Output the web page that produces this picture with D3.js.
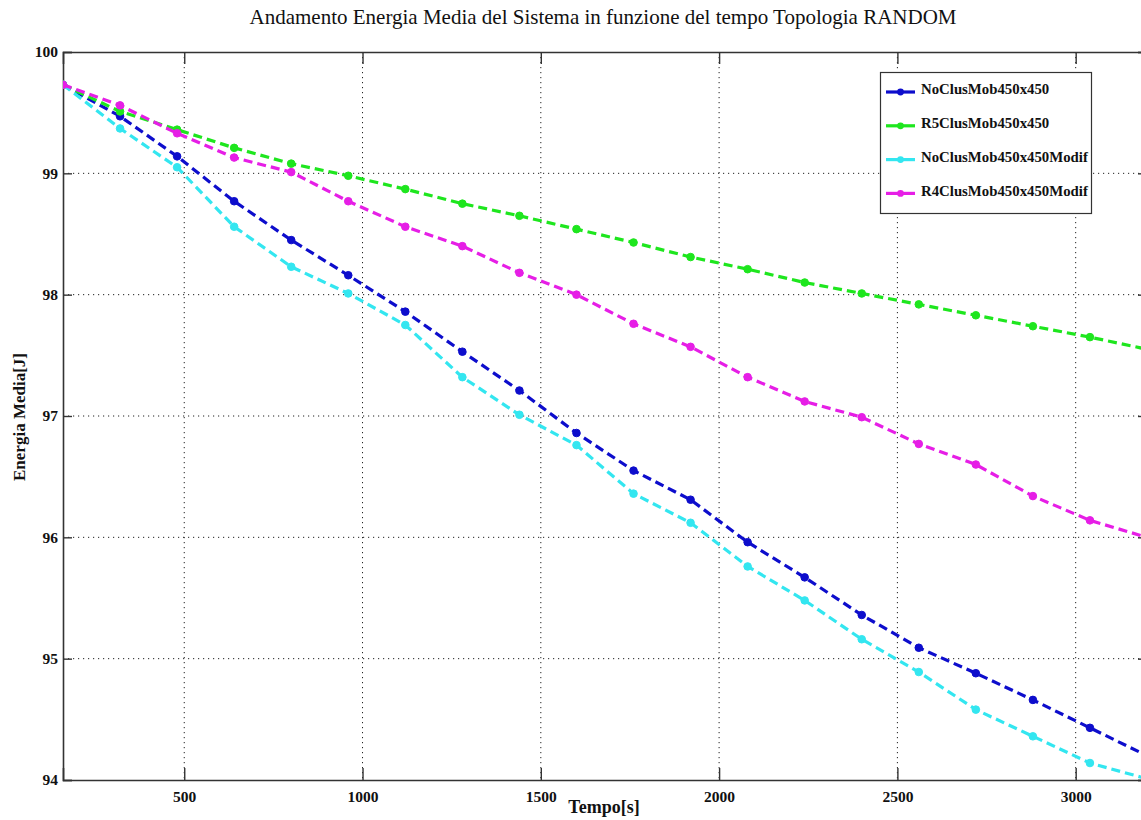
<!DOCTYPE html>
<html>
<head>
<meta charset="utf-8">
<script src="https://cdn.jsdelivr.net/npm/d3@7"></script>
<style>
  html, body { margin: 0; padding: 0; background: #fff; }
  svg { display: block; }
</style>
</head>
<body>
<svg id="chart" width="1141" height="820"></svg>
<script>
const titleText = "Andamento Energia Media del Sistema in funzione del tempo Topologia RANDOM";
const xLabel = "Tempo[s]";
const yLabel = "Energia Media[J]";
const time = [160, 320, 480, 640, 800, 960, 1120, 1280, 1440, 1600, 1760, 1920, 2080, 2240, 2400, 2560, 2720, 2880, 3040, 3200];
const seriesNames = ["NoClusMob450x450", "R5ClusMob450x450", "NoClusMob450x450Modif", "R4ClusMob450x450Modif"];
const seriesColors = ["#0d0dcc", "#1ee61e", "#33e6f0", "#e61ee6"];
const noClus = [99.73, 99.47, 99.14, 98.77, 98.45, 98.16, 97.86, 97.53, 97.21, 96.86, 96.55, 96.31, 95.96, 95.67, 95.36, 95.09, 94.88, 94.66, 94.43, 94.20];
const r5Clus = [99.73, 99.51, 99.36, 99.21, 99.08, 98.98, 98.87, 98.75, 98.65, 98.54, 98.43, 98.31, 98.21, 98.10, 98.01, 97.92, 97.83, 97.74, 97.65, 97.55];
const noClusModif = [99.73, 99.37, 99.05, 98.56, 98.23, 98.01, 97.75, 97.32, 97.01, 96.76, 96.36, 96.12, 95.76, 95.48, 95.16, 94.89, 94.58, 94.36, 94.14, 94.01];
const r4ClusModif = [99.73, 99.56, 99.33, 99.13, 99.01, 98.77, 98.56, 98.40, 98.18, 98.00, 97.76, 97.57, 97.32, 97.12, 96.99, 96.77, 96.60, 96.34, 96.14, 96.00];
const xTicks = [500, 1000, 1500, 2000, 2500, 3000];
const yTicks = [94, 95, 96, 97, 98, 99, 100];

const seriesValues = [noClus, r5Clus, noClusModif, r4ClusModif];

(function () {
const svg = d3.select("#chart");
const pL = 63, pR = 1147, pT = 52, pB = 780;
const x = d3.scaleLinear().domain([160, 3200]).range([pL, pR]);
const y = d3.scaleLinear().domain([94, 100]).range([pB, pT]);
const serif = "'Liberation Serif', 'DejaVu Serif', serif";

// Title
svg.append("text").attr("x", 603).attr("y", 24).attr("text-anchor", "middle")
  .attr("font-family", serif).attr("font-size", 21).attr("fill", "#111")
  .text(titleText);

// grid
const grid = svg.append("g");
xTicks.forEach(t => {
  grid.append("line").attr("x1", x(t)).attr("x2", x(t)).attr("y1", pT).attr("y2", pB)
    .attr("stroke", "#222").attr("stroke-width", 1).attr("stroke-dasharray", "1.2,3.8");
});
yTicks.filter(t => t > 94 && t < 100).forEach(t => {
  grid.append("line").attr("x1", pL).attr("x2", pR).attr("y1", y(t)).attr("y2", y(t))
    .attr("stroke", "#222").attr("stroke-width", 1).attr("stroke-dasharray", "1.2,3.8");
});

// axes via d3
const axB = svg.append("g").attr("transform", `translate(0,${pB})`)
  .call(d3.axisBottom(x).tickValues(xTicks).tickSize(-12).tickPadding(11).tickFormat(d3.format("d")));
const axT = svg.append("g").attr("transform", `translate(0,${pT})`)
  .call(d3.axisTop(x).tickValues(xTicks).tickSize(-12).tickFormat(""));
const axL = svg.append("g").attr("transform", `translate(${pL},0)`)
  .call(d3.axisLeft(y).tickValues(yTicks).tickSize(-9).tickPadding(5).tickFormat(d3.format("d")));
const axR = svg.append("g").attr("transform", `translate(${pR},0)`)
  .call(d3.axisRight(y).tickValues(yTicks).tickSize(-9).tickFormat(""));
[axB, axT, axL, axR].forEach(a => {
  a.select(".domain").attr("stroke", "#333").attr("stroke-width", 1.6);
  a.selectAll(".tick line").attr("stroke", "#333").attr("stroke-width", 1.4);
  a.selectAll("text").attr("font-family", serif).attr("font-size", 15.5)
    .attr("font-weight", "bold").attr("fill", "#111");
});

// axis labels
svg.append("text").attr("x", 604).attr("y", 813).attr("text-anchor", "middle")
  .attr("font-family", serif).attr("font-size", 18).attr("font-weight", "bold").attr("fill", "#111")
  .text(xLabel);
svg.append("text").attr("transform", `translate(25,417) rotate(-90)`).attr("text-anchor", "middle")
  .attr("font-family", serif).attr("font-size", 17).attr("font-weight", "bold").attr("fill", "#111")
  .text(yLabel);

// series
svg.append("clipPath").attr("id", "clip").append("rect")
  .attr("x", pL).attr("y", pT - 6).attr("width", pR - pL).attr("height", pB - pT + 6);
const plot = svg.append("g").attr("clip-path", "url(#clip)");
const line = d3.line().x((d, i) => x(time[i])).y(d => y(d));
seriesValues.forEach((vals, k) => {
  const g = plot.append("g");
  g.append("path").attr("d", line(vals)).attr("fill", "none")
    .attr("stroke", seriesColors[k]).attr("stroke-width", 3.2).attr("stroke-dasharray", "9,5");
  g.selectAll("circle").data(vals).enter().append("circle")
    .attr("cx", (d, i) => x(time[i])).attr("cy", d => y(d)).attr("r", 3.8)
    .attr("fill", seriesColors[k]).attr("stroke", seriesColors[k]).attr("stroke-width", 1);
});

// legend
const lg = svg.append("g");
lg.append("rect").attr("x", 880.5).attr("y", 72.5).attr("width", 211).attr("height", 141)
  .attr("fill", "#fff").attr("stroke", "#333").attr("stroke-width", 1.2);
seriesNames.forEach((name, k) => {
  const ry = 92 + k * 33.8;
  lg.append("line").attr("x1", 886).attr("x2", 915).attr("y1", ry).attr("y2", ry)
    .attr("stroke", seriesColors[k]).attr("stroke-width", 3.2);
  lg.append("circle").attr("cx", 900.5).attr("cy", ry).attr("r", 3.4)
    .attr("fill", seriesColors[k]);
  lg.append("text").attr("x", 921).attr("y", ry + 1).attr("dy", "0.1em")
    .attr("font-family", serif).attr("font-size", 14.8).attr("font-weight", "bold").attr("fill", "#111")
    .text(name);
});
})();
</script>
</body>
</html>
